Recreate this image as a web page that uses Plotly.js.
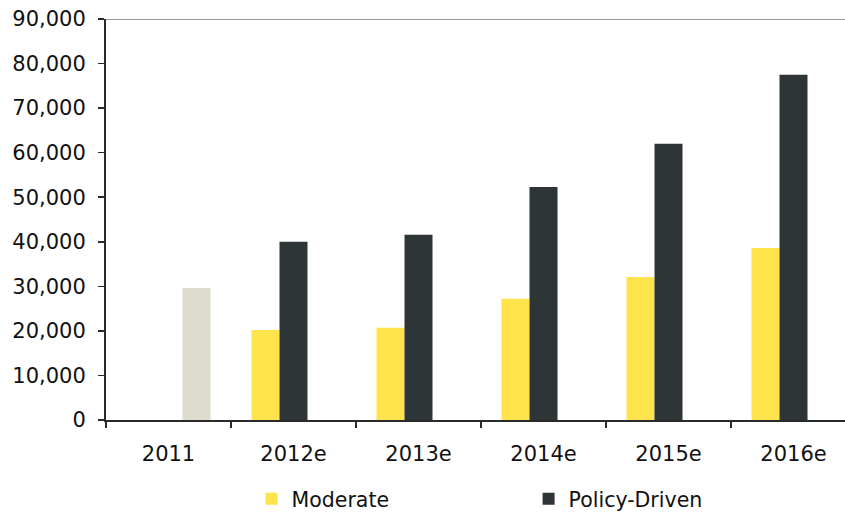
<!DOCTYPE html>
<html>
<head>
<meta charset="utf-8">
<script src="https://cdn.plot.ly/plotly-3.0.1.min.js"></script>
<style>html,body{margin:0;padding:0;background:#fff;}#chart{width:845px;height:519px;}</style>
</head>
<body>
<div id="chart"></div>
<script>
const categories = ["2011", "2012e", "2013e", "2014e", "2015e", "2016e"];
const moderate = [null, 20200, 20700, 27200, 32100, 38600];
const policyDriven = [null, 40000, 41600, 52300, 62000, 77500];
const actual2011 = [29600, null, null, null, null, null];
const yTickVals = [0, 10000, 20000, 30000, 40000, 50000, 60000, 70000, 80000, 90000];

const tickFont = {family: "DejaVu Sans, Verdana, sans-serif", size: 21, color: "#111"};
const legendFont = {family: "DejaVu Sans, Verdana, sans-serif", size: 20.5, color: "#111"};

const traces = [
  {type: "bar", name: "Moderate", x: categories, y: moderate, marker: {color: "#FFE34D"}},
  {type: "bar", name: "Policy-Driven", x: categories, y: policyDriven, marker: {color: "#2E3537"}},
  {type: "bar", name: "2011", x: categories, y: actual2011, marker: {color: "#DDDBCB"}, showlegend: false}
];

const layout = {
  width: 845, height: 519,
  margin: {l: 106, r: 0, t: 19, b: 99, autoexpand: false},
  paper_bgcolor: "#fff", plot_bgcolor: "#fff",
  font: tickFont,
  barmode: "group", bargap: 0.328, bargroupgap: 0,
  showlegend: true,
  legend: {orientation: "h", x: 0.197, xanchor: "left", y: -0.247, yanchor: "bottom",
           font: legendFont, entrywidth: 232, traceorder: "normal", borderwidth: 0},
  xaxis: {type: "category", range: [-0.5, 5.412], showgrid: false, zeroline: false,
          showline: true, linecolor: "#2a2a2a", linewidth: 2,
          ticks: "outside", tickson: "boundaries", ticklen: 6, tickcolor: "#2a2a2a", tickwidth: 1.5,
          ticklabelstandoff: 14, tickfont: tickFont, fixedrange: true, automargin: false},
  yaxis: {range: [0, 90000], tickvals: yTickVals, tickformat: ",d", showgrid: false, zeroline: false,
          showline: true, linecolor: "#2a2a2a", linewidth: 2,
          ticks: "outside", ticklen: 6, tickcolor: "#2a2a2a", tickwidth: 1.5,
          ticklabelstandoff: 8, tickfont: tickFont, fixedrange: true, automargin: false},
  shapes: [{type: "line", xref: "paper", yref: "y", x0: 0, x1: 1, y0: 90000, y1: 90000,
            line: {color: "#9a9a9a", width: 2}}]
};

Plotly.newPlot("chart", traces, layout, {staticPlot: true});
</script>
</body>
</html>
